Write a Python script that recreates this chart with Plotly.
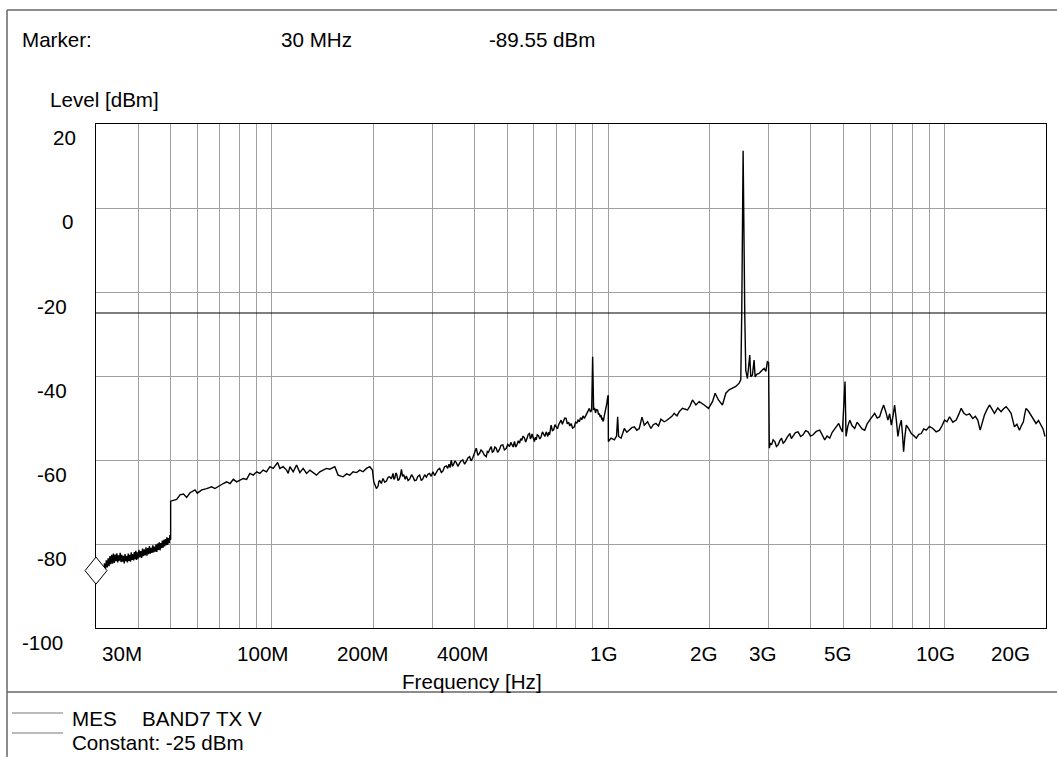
import math
import plotly.graph_objects as go

W, H = 1057, 757

# ---------------- data (frequency in MHz, level in dBm) ----------------
seg1_f = [30.0, 30.2, 30.4, 30.6, 30.8, 31.0, 31.2, 31.4, 31.6, 31.8, 32.0, 32.2, 32.4, 32.6,
          32.8, 33.0, 33.2, 33.4, 33.6, 33.8, 34.0, 34.2, 34.4, 34.6, 34.8, 35.0, 35.2, 35.4,
          35.6, 35.8, 36.0, 36.2, 36.4, 36.6, 36.8, 37.0, 37.2, 37.4, 37.6, 37.8, 38.0, 38.2,
          38.4, 38.6, 38.8, 39.0, 39.2, 39.4, 39.6, 39.8, 40.0, 40.25, 40.5, 40.75, 41.0,
          41.25, 41.5, 41.75, 42.0, 42.25, 42.5, 42.75, 43.0, 43.25, 43.5, 43.75, 44.0, 44.25,
          44.5, 44.75, 45.0, 45.25, 45.5, 45.75, 46.0, 46.25, 46.5, 46.75, 47.0, 47.25, 47.5,
          47.75, 48.0, 48.25, 48.5, 48.75, 49.0, 49.25, 49.5, 49.75, 50.0]
seg1_l = [-89.5, -88.4, -88.9, -87.3, -88.0, -86.2, -87.4, -85.5, -86.6, -84.6, -86.0, -83.9,
          -85.6, -83.4, -85.3, -82.9, -84.8, -82.6, -84.7, -82.3, -84.5, -82.5, -84.1, -82.2,
          -84.4, -82.7, -84.0, -82.1, -84.3, -82.6, -84.2, -82.8, -84.6, -82.4, -84.1, -82.9,
          -84.4, -82.3, -84.0, -82.6, -84.2, -82.0, -83.8, -82.4, -83.9, -81.9, -83.6, -81.6,
          -83.8, -82.0, -83.5, -81.4, -83.2, -81.7, -83.3, -81.1, -82.9, -81.3, -82.7, -80.8,
          -82.8, -81.0, -82.4, -80.5, -82.3, -80.9, -82.1, -80.3, -82.0, -80.6, -81.8, -80.1,
          -81.9, -79.9, -81.4, -79.6, -81.5, -79.8, -81.0, -79.2, -80.9, -79.0, -80.6, -78.8,
          -80.3, -78.4, -80.2, -78.6, -79.8, -77.9, -79.0]

seg2_f = [50.0, 52.1, 53.3, 54.6, 55.8, 57.1, 59.1, 60.0, 61.9, 64.0, 66.2, 67.7, 70.1, 71.7,
          73.4, 75.1, 76.8, 78.6, 80.4, 82.2, 84.1, 86.0, 88.0, 90.1, 92.1, 94.2, 96.4, 98.6,
          100.9, 104.0, 105.6, 108.0, 110.6, 111.8, 113.1, 115.7, 118.4, 121.1, 123.8, 126.8,
          129.7, 132.6, 135.7, 138.8, 142.0, 145.3, 148.6, 153.8, 157.3, 162.8, 166.7, 170.4,
          174.3, 178.4, 182.5, 186.6, 191.0, 195.4, 199.0, 200.8, 204.5]
seg2_l = [-69.8, -69.4, -68.3, -68.1, -68.9, -67.8, -67.1, -67.9, -67.1, -66.8, -66.4, -66.8,
          -66.0, -65.6, -65.2, -65.6, -64.6, -65.2, -64.8, -64.4, -64.6, -63.2, -63.6, -62.8,
          -63.2, -62.4, -62.8, -61.6, -62.0, -60.6, -62.0, -61.6, -62.4, -63.2, -61.6, -62.8,
          -61.2, -63.0, -62.0, -63.2, -62.4, -63.0, -63.6, -62.8, -62.4, -62.0, -62.2, -61.6,
          -63.6, -64.0, -63.3, -63.6, -62.8, -63.0, -62.4, -62.8, -62.0, -61.6, -62.4, -65.2,
          -66.8]

seg3_f = [206.8, 208.0, 209.2, 211.5, 213.9, 216.5, 219.0, 221.5, 223.9, 226.5, 229.1, 230.5,
          232.0, 233.5, 235.0, 237.0, 239.0, 241.0, 242.7, 244.5, 246.5, 249.0, 251.0, 254.0,
          257.0, 260.0, 262.6, 265.5, 268.5, 271.5, 274.9, 278.0, 281.0, 284.5, 287.8, 291.0,
          294.3, 297.5, 301.0, 304.5, 308.0, 311.5, 315.2, 319.0, 322.5, 326.0, 330.0, 333.0,
          336.0, 338.5, 341.4, 344.0, 347.0, 350.0, 353.2, 357.0, 361.0, 365.0, 369.5, 374.0,
          378.0, 382.5, 386.9, 391.0, 395.0, 400.0, 405.0, 409.5, 414.2, 418.5, 423.0, 428.0,
          433.6, 437.0, 440.0, 444.5, 448.7, 452.0, 456.0, 460.0, 464.3, 469.0, 474.0, 480.0,
          485.7, 491.0, 497.0, 502.5, 508.5, 513.0, 517.0, 521.5, 526.1, 530.5, 535.0, 540.0,
          544.5, 549.0, 553.0, 558.0, 563.4, 568.0, 573.0, 578.0, 583.0, 586.5, 590.0, 593.0,
          596.4, 600.0, 603.0, 606.5, 610.4, 615.0, 620.0, 626.0, 631.5, 637.0, 642.0, 648.0,
          653.4, 657.0, 661.0, 664.5, 668.4, 672.0, 676.1, 682.0, 688.0, 694.0, 699.5, 706.0,
          712.0, 718.0, 723.8, 730.0, 736.0, 742.0, 748.9, 755.0, 762.0, 768.0, 774.8, 783.0,
          792.5, 799.0, 806.0, 813.0, 820.4, 827.0, 834.0, 841.0, 848.8, 856.0, 863.0, 871.0,
          878.5, 885.0, 892.3, 898.3, 904.4, 910.0, 916.0, 922.0, 929.4, 935.0, 940.0, 946.0,
          951.3, 956.0, 960.0, 964.0, 968.3, 972.0, 976.0, 980.0, 984.5, 990.0, 995.2, 999.5]
seg3_l = [-66.2, -65.1, -64.9, -65.6, -64.4, -65.3, -65.0, -64.1, -64.0, -64.5, -63.2, -64.6,
          -64.3, -63.1, -63.4, -64.9, -64.6, -63.7, -62.2, -63.9, -63.5, -64.6, -63.8, -64.9,
          -64.5, -63.5, -64.0, -64.9, -64.8, -63.9, -63.6, -64.9, -64.5, -63.5, -64.1, -63.4,
          -63.2, -63.9, -62.8, -63.7, -63.0, -62.3, -62.0, -63.0, -62.6, -61.6, -61.4, -62.0,
          -61.0, -61.8, -60.0, -61.5, -61.0, -60.2, -60.6, -61.5, -60.8, -60.2, -60.0, -61.0,
          -60.4, -59.5, -59.2, -60.2, -59.6, -58.5, -57.2, -58.9, -58.4, -57.6, -58.0, -58.8,
          -59.2, -58.0, -58.2, -57.4, -56.8, -58.1, -57.9, -56.9, -57.2, -58.2, -57.6, -56.5,
          -56.4, -57.6, -57.3, -56.3, -56.8, -55.8, -56.2, -56.9, -55.6, -56.9, -56.4, -55.4,
          -56.0, -54.9, -55.3, -54.3, -54.8, -55.7, -54.9, -53.9, -53.7, -55.0, -54.6, -53.8,
          -54.4, -55.3, -55.6, -54.6, -55.2, -54.0, -54.2, -55.0, -54.4, -53.3, -53.8, -54.4,
          -53.3, -54.0, -54.4, -53.4, -54.0, -53.0, -51.7, -53.0, -52.8, -51.6, -52.1, -52.6,
          -51.6, -51.0, -50.5, -51.5, -50.9, -50.0, -50.1, -51.4, -51.0, -51.9, -51.3, -52.4,
          -52.1, -51.0, -51.2, -50.5, -50.9, -49.9, -50.4, -49.5, -50.1, -49.4, -48.9, -48.4,
          -47.7, -48.6, -48.1, -35.4, -48.1, -47.6, -48.8, -48.0, -48.1, -49.2, -48.9, -49.8,
          -49.3, -50.4, -49.9, -50.8, -50.5, -49.6, -49.0, -48.2, -47.3, -46.5, -45.1, -44.6]

seg4_f = [1000.5, 1019, 1042, 1058, 1066, 1073, 1091, 1116, 1135, 1154, 1175, 1195, 1215, 1236,
          1259, 1279, 1308, 1339, 1360, 1385, 1410, 1433, 1466, 1490, 1517, 1545, 1570, 1600,
          1625, 1661, 1719, 1750, 1779, 1821, 1863, 1900, 1928, 1985, 2040, 2077, 2125, 2184,
          2235, 2286, 2338, 2393, 2448, 2476, 2493, 2516, 2545, 2562, 2591, 2633, 2651, 2681,
          2712, 2731, 2760, 2806, 2850, 2904, 2940, 2970, 2995]
seg4_l = [-55.6, -54.8, -55.2, -54.3, -49.7, -54.4, -54.8, -52.5, -53.4, -52.9, -52.3, -52.1,
          -52.9, -52.5, -49.8, -51.7, -50.9, -52.5, -51.6, -51.3, -51.9, -50.3, -50.9, -50.6,
          -50.1, -49.6, -48.9, -49.5, -48.5, -47.7, -48.1, -47.1, -45.7, -46.9, -46.1, -46.5,
          -46.9, -47.7, -46.1, -44.1, -45.7, -46.9, -44.1, -43.3, -42.9, -42.5, -41.7, -40.9,
          -24.3, 13.6, -25.9, -38.6, -40.6, -35.0, -40.2, -39.8, -36.2, -40.2, -39.6, -39.4,
          -38.8, -38.2, -38.9, -36.6, -36.8]

seg5_f = [3000, 3010, 3030, 3056, 3090, 3126, 3160, 3197, 3235, 3272, 3310, 3346, 3400, 3463,
          3500, 3542, 3600, 3665, 3730, 3792, 3860, 3925, 3990, 4061, 4150, 4251, 4320, 4398,
          4470, 4552, 4630, 4710, 4780, 4840, 4900, 4965, 5054, 5089, 5150, 5219, 5300, 5400,
          5490, 5588, 5680, 5783, 5880, 5982, 6090, 6191, 6300, 6406, 6490, 6582, 6680, 6778,
          6860, 6938, 7020, 7097, 7180, 7258, 7340, 7429, 7490, 7546, 7610, 7687, 7820, 7954,
          8090, 8231, 8370, 8517, 8660, 8813, 9010, 9218, 9430, 9652, 9820, 9987, 10160, 10334,
          10570, 10817, 11000, 11193, 11390, 11581, 11850, 12115, 12330, 12538, 12745, 12940,
          13126, 13350, 13582, 13820, 14055, 14380, 14710, 14960, 15220, 15480, 15750, 15930,
          16111, 16390, 16673, 16900, 17131, 17300, 17450, 17750, 18055, 18370, 18682, 19000,
          19330, 19600, 19868]
seg5_l = [-55.2, -57.2, -56.0, -56.4, -55.2, -55.6, -56.8, -56.4, -55.4, -54.8, -56.0, -55.6,
          -54.6, -53.7, -54.9, -54.4, -53.5, -53.3, -54.4, -54.0, -53.0, -53.3, -54.3, -54.0,
          -53.2, -52.9, -54.0, -55.2, -54.3, -54.8, -53.4, -52.5, -52.0, -51.3, -52.4, -53.3,
          -41.3, -54.4, -52.0, -50.5, -51.8, -52.5, -51.0, -51.7, -52.6, -52.9, -51.4, -50.5,
          -49.8, -48.9, -50.0, -49.7, -48.2, -46.9, -48.5, -50.5, -49.0, -51.7, -49.5, -46.9,
          -50.5, -54.4, -52.0, -50.5, -54.0, -58.0, -54.5, -51.7, -52.6, -53.7, -54.2, -54.8,
          -53.9, -53.7, -52.6, -52.9, -52.0, -52.5, -53.3, -52.9, -51.8, -50.5, -50.9, -49.7,
          -51.0, -50.5, -49.2, -47.7, -48.8, -49.3, -49.0, -50.1, -49.6, -50.5, -52.9, -51.0,
          -49.3, -48.0, -46.9, -47.9, -48.9, -47.6, -48.5, -47.8, -47.3, -48.0, -48.9, -50.5,
          -52.1, -51.5, -52.9, -51.8, -50.9, -49.0, -47.7, -48.4, -49.3, -50.5, -51.3, -50.6,
          -51.7, -52.6, -54.4]

limit_f = [30, 20000]
limit_l = [-25, -25]

marker_f = 30.0
marker_l = -89.55

x_range_mhz = [30, 20000]
x_tick_mhz = [30, 100, 200, 400, 1000, 2000, 3000, 5000, 10000, 20000]
x_tick_text = ["30M", "100M", "200M", "400M", "1G", "2G", "3G", "5G", "10G", "20G"]
grid_mhz = [30, 40, 50, 60, 70, 80, 90, 100, 200, 300, 400, 500, 600, 700, 800, 900,
            1000, 2000, 3000, 4000, 5000, 6000, 7000, 8000, 9000, 10000, 20000]
y_ticks = [20, 0, -20, -40, -60, -80, -100]
y_tick_text = ["20", "0", "-20", "-40", "-60", "-80", "-100"]

# ---------------- layout helpers (pixels) ----------------
x_label_shift = [26, -9, -10, -11, -5, -6, -6, -6, -9, -36]
y_label_cx = [64, 67, 52, 52, 52, 52, 42]
FONT = "Liberation Sans, Arial, sans-serif"
FS = 20.6


def px(x):
    return x / W


def py(y):
    return 1 - y / H


freq_hz = [f * 1e6 for f in seg1_f + seg2_f + seg3_f + seg4_f + seg5_f]
levels = seg1_l + seg2_l + seg3_l + seg4_l + seg5_l

lo, hi = math.log10(x_range_mhz[0] * 1e6), math.log10(x_range_mhz[1] * 1e6)

fig = go.Figure()
fig.add_trace(go.Scatter(x=[f * 1e6 for f in limit_f], y=limit_l, mode="lines",
                         line=dict(color="black", width=1), hoverinfo="skip"))
fig.add_trace(go.Scatter(x=freq_hz, y=levels, mode="lines",
                         line=dict(color="black", width=1.4)))

annotations = []
for f, t, s in zip(x_tick_mhz, x_tick_text, x_label_shift):
    annotations.append(dict(x=math.log10(f * 1e6), xref="x", y=py(653), yref="paper",
                            text=t, showarrow=False, xanchor="center", yanchor="middle",
                            xshift=s, font=dict(family=FONT, size=FS, color="black")))
for v, t, cx in zip(y_ticks, y_tick_text, y_label_cx):
    annotations.append(dict(x=px(cx), xref="paper", y=v, yref="y", yshift=-14,
                            text=t, showarrow=False, xanchor="center", yanchor="middle",
                            font=dict(family=FONT, size=FS, color="black")))

texts = [
    ("Marker:", 20, 40),
    ("30 MHz", 279, 40),
    ("-89.55 dBm", 487, 40),
    ("Level [dBm]", 48, 100),
    ("MES", 70, 718),
    ("BAND7 TX V", 140, 718),
    ("Constant: -25 dBm", 70, 742),
]
for t, x, y in texts:
    annotations.append(dict(x=px(x), xref="paper", y=py(y), yref="paper", text=t,
                            showarrow=False, xanchor="left", yanchor="middle",
                            font=dict(family=FONT, size=FS, color="black")))
annotations.append(dict(x=px(472), xref="paper", y=py(681), yref="paper", text="Frequency [Hz]",
                        showarrow=False, xanchor="center", yanchor="middle",
                        font=dict(family=FONT, size=FS, color="black")))

frame_col = "#666666"
marker_dom = (math.log10(marker_f * 1e6) - lo) / (hi - lo)
shapes = [
    dict(type="line", xref="paper", yref="paper", x0=px(7), x1=1, y0=py(10), y1=py(10),
         line=dict(color=frame_col, width=1.5)),
    dict(type="line", xref="paper", yref="paper", x0=px(7), x1=px(7), y0=py(10), y1=0,
         line=dict(color=frame_col, width=1.5)),
    dict(type="line", xref="paper", yref="paper", x0=px(7), x1=1, y0=py(692), y1=py(692),
         line=dict(color=frame_col, width=1.5)),
    dict(type="line", xref="paper", yref="paper", x0=px(12), x1=px(63), y0=py(713), y1=py(713),
         line=dict(color="#777777", width=1)),
    dict(type="line", xref="paper", yref="paper", x0=px(12), x1=px(63), y0=py(733), y1=py(733),
         line=dict(color="#777777", width=1)),
    dict(type="path", xref="x domain", yref="y", xsizemode="pixel", ysizemode="pixel",
         xanchor=marker_dom, yanchor=marker_l,
         path="M 0,0 L 11,13.5 L 0,27 L -11,13.5 Z",
         fillcolor="white", line=dict(color="black", width=1), layer="above"),
]

fig.update_layout(
    width=W, height=H, autosize=False,
    margin=dict(l=0, r=0, t=0, b=0),
    paper_bgcolor="white", plot_bgcolor="white",
    showlegend=False,
    font=dict(family=FONT, size=FS, color="black"),
    xaxis=dict(type="log", domain=[96 / W, 1046 / W], range=[lo, hi],
               tickvals=[g * 1e6 for g in grid_mhz], showticklabels=False, ticks="",
               showgrid=True, gridcolor="#a0a0a0", gridwidth=1,
               showline=True, linecolor="black", linewidth=1, mirror=True,
               zeroline=False, fixedrange=True),
    yaxis=dict(domain=[1 - 628 / H, 1 - 124 / H], range=[-100, 20],
               tickvals=y_ticks, showticklabels=False, ticks="",
               showgrid=True, gridcolor="#a0a0a0", gridwidth=1,
               showline=True, linecolor="black", linewidth=1, mirror=True,
               zeroline=False, fixedrange=True),
    annotations=annotations,
    shapes=shapes,
)

fig.write_html("out.html", config={"displayModeBar": False},
               post_script="document.body.style.margin='0';document.body.style.overflow='hidden';")
